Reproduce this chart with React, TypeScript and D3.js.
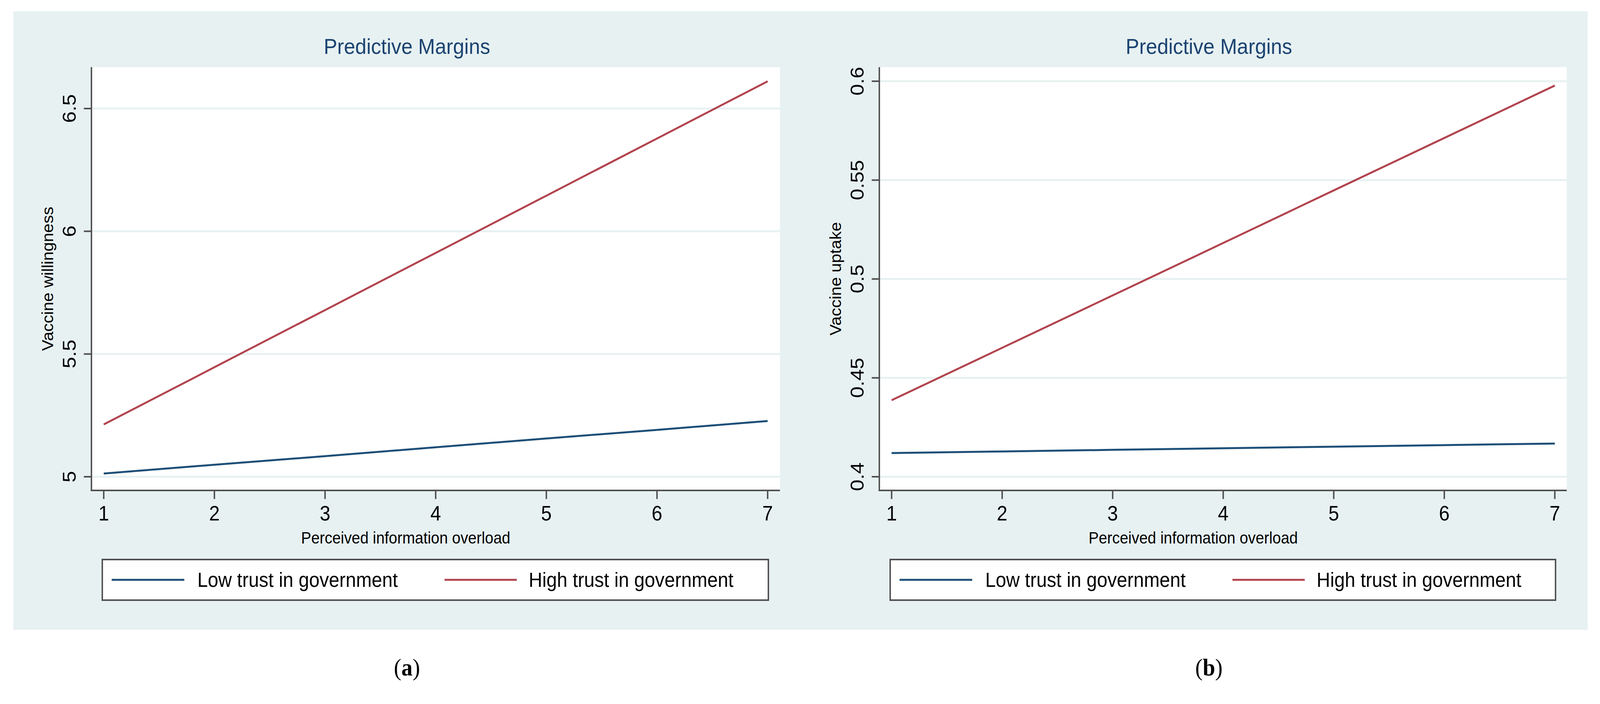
import React from 'react';
import * as d3 from 'd3';

// ---------- data ----------
const overload = [1, 2, 3, 4, 5, 6, 7];
const xTicks = [1, 2, 3, 4, 5, 6, 7];
const willingLow = [5.013, 5.049, 5.084, 5.12, 5.156, 5.191, 5.227];
const willingHigh = [5.213, 5.446, 5.679, 5.912, 6.145, 6.378, 6.611];
const uptakeLow = [0.412, 0.4128, 0.4136, 0.4144, 0.4152, 0.416, 0.4168];
const uptakeHigh = [0.4387, 0.4652, 0.4917, 0.5182, 0.5448, 0.5713, 0.5978];
const willingTicks = [5, 5.5, 6, 6.5];
const uptakeTicks = [0.4, 0.45, 0.5, 0.55, 0.6];
const willingTickLabels = ['5', '5.5', '6', '6.5'];
const uptakeTickLabels = ['0.4', '0.45', '0.5', '0.55', '0.6'];
const seriesNames = ['Low trust in government', 'High trust in government'];
const panelTitle = 'Predictive Margins';
const xTitle = 'Perceived information overload';
const yTitles = ['Vaccine willingness', 'Vaccine uptake'];
const panelLabels = ['a', 'b'];

// ---------- style ----------
const BG = '#e7f1f2';
const GRID = '#e7f1f2';
const AXIS = '#4f4f4f';
const BLUE = '#1d4f78';
const RED = '#b2434d';
const TITLE = '#1b4371';
const FONT = '"Liberation Sans", Arial, Helvetica, sans-serif';

type PanelProps = {
  left: number; right: number; top: number; bottom: number;
  xr: [number, number];
  yDomain: [number, number]; yRange: [number, number];
  ticks: number[]; tickLabels: string[];
  low: number[]; high: number[];
  yTitle: string; titleX: number; label: string; labelX: number;
};

function Panel(p: PanelProps) {
  const x = d3.scaleLinear().domain([1, 7]).range(p.xr);
  const y = d3.scaleLinear().domain(p.yDomain).range(p.yRange);
  const line = d3.line<number>().x((_, i) => x(overload[i])).y((d) => y(d));
  const legL = p.xr[0] - 4;
  const legR = p.xr[1] + 2;
  const legT = 1433, legB = 1537;
  const keyY = (legT + legB) / 2;
  const midY = (p.top + p.bottom) / 2;
  return (
    <g>
      <text x={p.titleX} y={138} textAnchor="middle" fontFamily={FONT} fontSize={56} fill={TITLE}>{panelTitle}</text>
      <rect x={p.left} y={p.top} width={p.right - p.left} height={p.bottom - p.top} fill="#ffffff" />
      {p.ticks.map((t) => (
        <line key={'g' + t} x1={p.left + 2} x2={p.right} y1={y(t)} y2={y(t)} stroke={GRID} strokeWidth={5} />
      ))}
      <path d={line(p.low) || ''} fill="none" stroke={BLUE} strokeWidth={5} />
      <path d={line(p.high) || ''} fill="none" stroke={RED} strokeWidth={5} />
      <line x1={p.left} x2={p.left} y1={p.top} y2={p.bottom + 2} stroke={AXIS} strokeWidth={4} />
      <line x1={p.left - 2} x2={p.right} y1={p.bottom} y2={p.bottom} stroke={AXIS} strokeWidth={4} />
      {p.ticks.map((t, i) => (
        <g key={'yt' + t}>
          <line x1={p.left - 21} x2={p.left} y1={y(t)} y2={y(t)} stroke={AXIS} strokeWidth={4} />
          <text transform={`translate(${p.left - 43},${y(t)}) rotate(-90)`} textAnchor="middle" fontFamily={FONT} fontSize={53} fill="#000">{p.tickLabels[i]}</text>
        </g>
      ))}
      {xTicks.map((t) => (
        <g key={'xt' + t}>
          <line x1={x(t)} x2={x(t)} y1={p.bottom} y2={p.bottom + 22} stroke={AXIS} strokeWidth={4} />
          <text x={x(t)} y={1333} textAnchor="middle" fontFamily={FONT} fontSize={53} fill="#000">{t}</text>
        </g>
      ))}
      <text x={(p.xr[0] + p.xr[1]) / 2 - 83} y={1392} textAnchor="middle" fontFamily={FONT} fontSize={42} fill="#000">{xTitle}</text>
      <text transform={`translate(${p.left - 106},${midY}) rotate(-90)`} textAnchor="middle" fontFamily={FONT} fontSize={43} fill="#000">{p.yTitle}</text>
      <rect x={legL} y={legT} width={legR - legL} height={legB - legT} fill="#ffffff" stroke={AXIS} strokeWidth={4} />
      <line x1={legL + 26} x2={legL + 227} y1={keyY} y2={keyY} stroke={BLUE} strokeWidth={5} />
      <text x={legL + 263} y={keyY + 18} fontFamily={FONT} fontSize={52} fill="#000">{seriesNames[0]}</text>
      <line x1={legL + 947} x2={legL + 1147} y1={keyY} y2={keyY} stroke={RED} strokeWidth={5} />
      <text x={legL + 1180} y={keyY + 18} fontFamily={FONT} fontSize={52} fill="#000">{seriesNames[1]}</text>
      <text x={p.labelX} y={1730} textAnchor="middle" fontFamily='"Liberation Serif", "Times New Roman", serif' fontSize={62} fill="#000">
        (<tspan fontWeight="bold">{p.label}</tspan>)
      </text>
    </g>
  );
}

export default function App() {
  return (
    <svg viewBox="0 0 4427 1803" preserveAspectRatio="none"
      style={{ position: 'fixed', left: 0, top: 0, width: '100vw', height: '100vh', display: 'block', background: '#fff' }}>
      <rect x={0} y={0} width={4427} height={1803} fill="#ffffff" />
      <rect x={37} y={29} width={4356} height={1584} fill={BG} />
      <Panel left={253} right={2158} top={172} bottom={1256} xr={[287, 2124]}
        yDomain={[5, 6.5]} yRange={[1221, 278]} ticks={willingTicks} tickLabels={willingTickLabels}
        low={willingLow} high={willingHigh} yTitle={yTitles[0]} titleX={1126} label={panelLabels[0]} labelX={1126} />
      <Panel left={2433} right={4335} top={172} bottom={1256} xr={[2467, 4302]}
        yDomain={[0.4, 0.6]} yRange={[1221, 208]} ticks={uptakeTicks} tickLabels={uptakeTickLabels}
        low={uptakeLow} high={uptakeHigh} yTitle={yTitles[1]} titleX={3345} label={panelLabels[1]} labelX={3345} />
    </svg>
  );
}
